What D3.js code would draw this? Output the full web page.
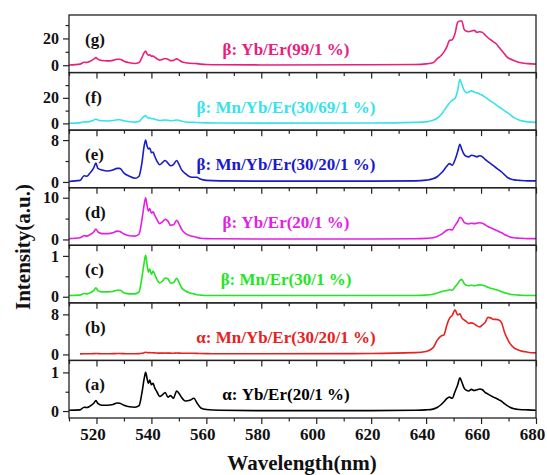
<!DOCTYPE html>
<html>
<head>
<meta charset="utf-8">
<script src="https://cdn.jsdelivr.net/npm/d3@7"></script>
<style>
body { margin: 0; background: #fff; }
svg text { font-family: "Liberation Serif", "Times New Roman", serif; font-weight: bold; }
</style>
</head>
<body>
<svg id="espectros" width="547" height="475"></svg>
<script>
"use strict"
// wavelength grid (nm), shared by every spectrum
var wavelength = [510, 514, 515.5, 516.5, 517.5, 519, 519.8, 520.5, 522, 524, 526, 527.5, 528.5, 530, 532, 534, 535.5, 536.5, 537.4, 537.9,
  538.4, 538.9, 539.4, 540, 540.6, 541.2, 542, 543, 544, 545, 546, 547, 548, 549.2, 550, 551, 552.4, 554, 555.5, 556.5,
  558, 560, 565, 580, 620, 636, 640, 642.5, 644, 645.5, 646.5, 647.5, 648.5, 649.5, 650.5, 651.5, 652.3, 653, 653.8, 654.6,
  655.5, 656.5, 657.5, 658.5, 659.5, 660.5, 661.5, 662.5, 663.5, 664.5, 665.5, 666.5, 667.5, 668.5, 669.5, 670.5, 672, 674, 677, 680];

// (g) beta Yb/Er 99/1
var serieG = [0.2, 0.8, 2.2, 2.0, 2.8, 4.5, 5.7, 4.5, 3.5, 3.2, 3.6, 4.5, 4.5, 3.0, 1.8, 1.3, 2.0, 5.5, 9.5, 10.5,
  8.5, 7.5, 7.8, 6.7, 6.9, 6.0, 4.8, 3.8, 4.3, 5.0, 4.5, 3.4, 3.6, 4.7, 4.0, 2.6, 1.9, 1.5, 1.3, 1.2,
  0.8, 0.5, 0.3, 0.2, 0.3, 0.5, 1.0, 1.8, 4.8, 7.3, 10.0, 13.5, 18.5, 19.0, 23.5, 32.0, 33.0, 33.0, 27.0, 25.5,
  25.0, 25.5, 26.0, 24.5, 25.0, 24.5, 22.5, 20.5, 19.0, 17.5, 16.0, 13.5, 11.0, 8.5, 6.0, 4.8, 3.5, 2.0, 1.2, 0.8];
// (f) beta Mn/Yb/Er 30/69/1
var serieF = [0.1, 0.4, 1.2, 1.1, 1.5, 2.5, 3.4, 2.6, 2.0, 1.9, 2.2, 2.9, 2.8, 2.0, 1.3, 1.0, 1.4, 3.8, 5.6, 6.1,
  5.0, 4.2, 4.4, 3.6, 3.7, 3.3, 2.7, 2.2, 2.4, 2.7, 2.5, 2.1, 2.2, 2.7, 2.4, 1.6, 1.1, 0.9, 0.8, 0.7,
  0.5, 0.4, 0.3, 0.2, 0.3, 0.8, 1.2, 2.5, 4.0, 7.0, 10.0, 13.0, 16.0, 18.0, 19.5, 26.0, 34.5, 30.5, 26.0, 24.0,
  24.5, 25.5, 24.5, 24.0, 23.0, 22.0, 20.5, 19.0, 17.5, 16.0, 14.5, 13.0, 11.5, 10.0, 8.5, 7.0, 4.5, 2.5, 1.2, 0.8];
// (e) beta Mn/Yb/Er 30/20/1
var serieE = [0.1, 0.3, 1.2, 1.1, 1.6, 2.7, 3.6, 2.6, 2.3, 2.1, 2.3, 2.6, 2.6, 1.7, 1.1, 0.7, 1.1, 3.5, 7.0, 8.0,
  6.9, 6.3, 6.5, 5.6, 5.7, 4.9, 4.0, 3.3, 3.7, 4.1, 3.6, 3.1, 3.3, 4.1, 3.4, 2.3, 1.6, 1.0, 0.9, 0.9,
  0.5, 0.3, 0.2, 0.15, 0.15, 0.2, 0.35, 0.6, 1.0, 1.7, 2.3, 3.0, 3.5, 3.2, 4.2, 5.8, 7.2, 6.2, 5.3, 4.9,
  4.8, 5.1, 5.0, 4.8, 5.0, 4.8, 4.3, 3.9, 3.5, 3.1, 2.7, 2.3, 1.9, 1.4, 0.9, 0.6, 0.4, 0.3, 0.2, 0.2];
// (d) beta Yb/Er 20/1
var serieD = [0.2, 0.4, 0.9, 0.8, 1.1, 1.8, 2.5, 1.8, 1.4, 1.4, 1.6, 2.0, 1.9, 1.3, 0.9, 0.8, 1.3, 4.5, 8.5, 10.0,
  8.2, 6.8, 7.4, 6.3, 6.6, 5.8, 4.8, 3.8, 4.2, 4.8, 4.4, 3.4, 3.5, 4.6, 3.8, 2.4, 1.4, 0.9, 0.7, 0.5,
  0.3, 0.2, 0.15, 0.1, 0.1, 0.15, 0.25, 0.4, 0.7, 1.2, 1.7, 2.2, 2.4, 2.3, 3.3, 4.3, 5.3, 5.0, 4.1, 3.8,
  3.7, 3.9, 3.8, 3.9, 4.0, 3.9, 3.5, 3.1, 2.8, 2.5, 2.2, 1.9, 1.6, 1.2, 0.9, 0.6, 0.4, 0.3, 0.2, 0.2];
// (c) beta Mn/Er 30/1
var serieC = [0.03, 0.04, 0.08, 0.07, 0.09, 0.15, 0.22, 0.15, 0.12, 0.12, 0.13, 0.16, 0.16, 0.1, 0.07, 0.07, 0.12, 0.45, 0.85, 1.02,
  0.8, 0.6, 0.68, 0.55, 0.63, 0.55, 0.42, 0.34, 0.38, 0.46, 0.44, 0.33, 0.34, 0.45, 0.36, 0.22, 0.14, 0.09, 0.07, 0.05,
  0.04, 0.03, 0.03, 0.03, 0.03, 0.03, 0.04, 0.06, 0.09, 0.12, 0.14, 0.15, 0.17, 0.16, 0.24, 0.32, 0.40, 0.42, 0.33, 0.28,
  0.27, 0.28, 0.27, 0.28, 0.29, 0.28, 0.26, 0.23, 0.21, 0.19, 0.17, 0.15, 0.12, 0.1, 0.08, 0.06, 0.05, 0.04, 0.03, 0.03];
// (b) alpha Mn/Yb/Er 30/20/1 (recorded from 513.5 nm)
var serieB = [null, 0.1, 0.12, 0.12, 0.13, 0.15, 0.18, 0.16, 0.14, 0.14, 0.15, 0.17, 0.17, 0.15, 0.13, 0.13, 0.15, 0.22, 0.35, 0.42,
  0.38, 0.34, 0.36, 0.32, 0.32, 0.3, 0.28, 0.25, 0.26, 0.27, 0.25, 0.25, 0.24, 0.27, 0.26, 0.24, 0.22, 0.22, 0.22, 0.2,
  0.17, 0.15, 0.14, 0.14, 0.18, 0.35, 0.6, 1.3, 2.8, 3.7, 3.9, 5.8, 7.2, 7.8, 8.9, 7.9, 8.1, 7.3, 6.9, 6.6,
  6.2, 6.3, 6.1, 5.7, 5.5, 5.9, 6.4, 7.4, 7.3, 7.0, 7.0, 6.9, 6.3, 4.5, 3.2, 2.2, 1.3, 0.8, 0.45, 0.3];
// (a) alpha Yb/Er 20/1
var serieA = [0.02, 0.03, 0.1, 0.09, 0.12, 0.2, 0.27, 0.2, 0.15, 0.15, 0.17, 0.21, 0.2, 0.15, 0.11, 0.1, 0.14, 0.45, 0.85, 1.0,
  0.85, 0.72, 0.8, 0.68, 0.72, 0.6, 0.5, 0.38, 0.42, 0.48, 0.36, 0.4, 0.33, 0.52, 0.46, 0.35, 0.26, 0.28, 0.33, 0.22,
  0.08, 0.04, 0.02, 0.01, 0.01, 0.02, 0.03, 0.05, 0.09, 0.17, 0.24, 0.32, 0.36, 0.33, 0.5, 0.68, 0.86, 0.75, 0.6, 0.54,
  0.52, 0.56, 0.53, 0.55, 0.57, 0.55, 0.48, 0.44, 0.4, 0.36, 0.33, 0.29, 0.25, 0.19, 0.14, 0.1, 0.06, 0.04, 0.03, 0.02];

var series = [serieG, serieF, serieE, serieD, serieC, serieB, serieA];
var letras = ["(g)", "(f)", "(e)", "(d)", "(c)", "(b)", "(a)"];
var nomes = ["β: Yb/Er(99/1 %)", "β: Mn/Yb/Er(30/69/1 %)", "β: Mn/Yb/Er(30/20/1 %)", "β: Yb/Er(20/1 %)",
  "β: Mn/Er(30/1 %)", "α: Mn/Yb/Er(30/20/1 %)", "α: Yb/Er(20/1 %)"];
var cores = ["#e8207a", "#38e2e8", "#1a1acc", "#e41ee4", "#22e622", "#e62222", "#000000"];
var yDominio = [[-5.5, 37.5], [-5.3, 39.8], [-1.1, 9.9], [-1.4, 12.4], [-0.15, 1.26], [-1.2, 10.3], [-0.18, 1.31]];
var yMaiores = [[0, 20], [0, 20], [0, 8], [0, 10], [0, 1], [0, 8], [0, 1]];
var yMenores = [[10, 30], [10, 30], [4], [5], [0.5], [4], [0.5]];
var xMaiores = [520, 540, 560, 580, 600, 620, 640, 660, 680];
var xMenores = [510, 530, 550, 570, 590, 610, 630, 650, 670];

var svg = d3.select("svg#espectros"),
    esq = 69, dir = 536, topo = 15, base = 418,
    alturaPainel = (base - topo) / series.length;

var x = d3.scaleLinear().domain([510, 680]).range([esq, dir]);

series.forEach(function(valores, i) {
  var y0 = topo + i * alturaPainel;
  var y = d3.scaleLinear().domain(yDominio[i]).range([y0 + alturaPainel, y0]);
  var g = svg.append("g").attr("class", "painel");

  var linha = d3.line()
    .defined(function(d) { return d != null; })
    .x(function(d, k) { return x(wavelength[k]); })
    .y(function(d) { return y(d); })
    .curve(d3.curveMonotoneX);

  g.append("path")
    .datum(valores)
    .attr("fill", "none")
    .attr("stroke", cores[i])
    .attr("stroke-width", 1.6)
    .attr("stroke-linejoin", "round")
    .attr("d", linha);

  // bottom ticks (they point into the panel below)
  var ultimo = i == series.length - 1;
  var eixoX = g.append("g").attr("transform", "translate(0," + (y0 + alturaPainel) + ")")
    .call(d3.axisBottom(x).tickValues(xMaiores).tickSize(6).tickPadding(4)
      .tickFormat(ultimo ? d3.format("d") : ""));
  eixoX.selectAll("text").attr("dx", -4).style("font-size", "17px").attr("fill", "#111");
  g.append("g").attr("transform", "translate(0," + (y0 + alturaPainel) + ")")
    .call(d3.axisBottom(x).tickValues(xMenores).tickSize(3.5).tickFormat(""));

  var eixoY = g.append("g").attr("transform", "translate(" + esq + ",0)")
    .call(d3.axisLeft(y).tickValues(yMaiores[i]).tickSize(6).tickPadding(4).tickFormat(d3.format("d")));
  eixoY.selectAll("text").style("font-size", "16px").attr("fill", "#111");
  g.append("g").attr("transform", "translate(" + esq + ",0)")
    .call(d3.axisLeft(y).tickValues(yMenores[i]).tickSize(3.5).tickFormat(""));

  g.selectAll(".domain").remove();
  g.selectAll(".tick line").attr("stroke", "#222").attr("stroke-width", 1.2);

  g.append("rect")
    .attr("x", esq).attr("y", y0)
    .attr("width", dir - esq).attr("height", alturaPainel)
    .attr("fill", "none").attr("stroke", "#222").attr("stroke-width", 1.3);

  g.append("text")
    .attr("x", 85).attr("y", y0 + 24)
    .attr("dy", "0.35em")
    .style("font-size", "17px")
    .attr("fill", "#111")
    .text(letras[i]);

  g.append("text")
    .attr("x", x(589)).attr("y", y0 + 34)
    .attr("dy", "0.35em")
    .attr("text-anchor", "middle")
    .style("font-size", "17px")
    .attr("fill", cores[i])
    .text(nomes[i]);
});

svg.append("text")
  .attr("x", 302).attr("y", 470)
  .attr("text-anchor", "middle")
  .style("font-size", "21px")
  .attr("fill", "#111")
  .text("Wavelength(nm)");

svg.append("text")
  .attr("transform", "translate(30,247) rotate(-90)")
  .attr("text-anchor", "middle")
  .style("font-size", "21px")
  .attr("fill", "#111")
  .text("Intensity(a.u.)");
</script>
</body>
</html>
